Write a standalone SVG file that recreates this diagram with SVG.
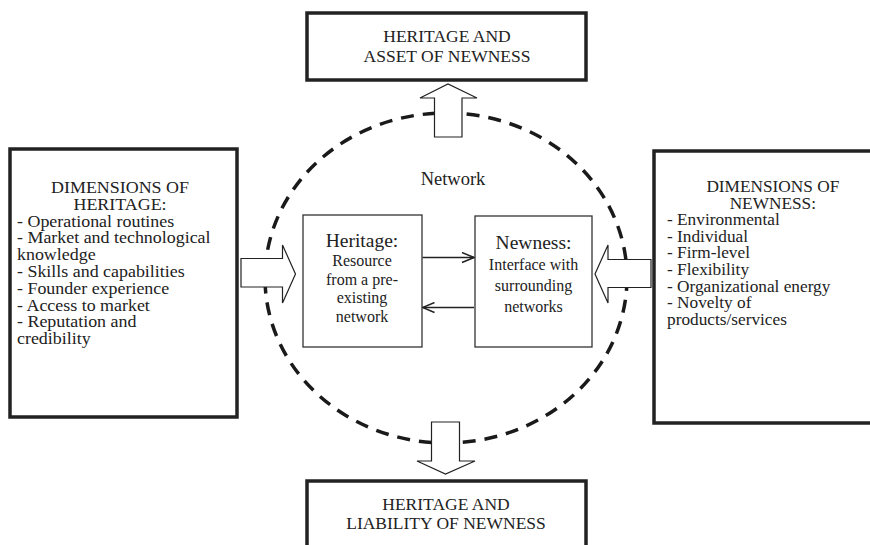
<svg xmlns="http://www.w3.org/2000/svg" width="870" height="545" viewBox="0 0 870 545">
<defs>
<style>
text{font-family:"Liberation Serif","Times New Roman",serif;fill:#222;}
.box{fill:#fff;stroke:#222;stroke-width:3.5;}
.inner{fill:#fff;stroke:#333;stroke-width:1.3;}
.block{fill:#fff;stroke:#222;stroke-width:1.2;stroke-linejoin:miter;}
.net{fill:none;stroke:#1a1a1a;stroke-width:3.5;stroke-dasharray:13 9;}
.ln{fill:none;stroke:#222;stroke-width:1.5;}
.c{text-anchor:middle;}
.l{font-size:16.6px;}
.r{font-size:16px;}
</style>
<marker id="open" viewBox="0 0 14 12" refX="13" refY="6" markerWidth="14" markerHeight="12" markerUnits="userSpaceOnUse" orient="auto">
<path d="M1,1 L13,6 L1,11" fill="none" stroke="#222" stroke-width="1.5"/>
</marker>
</defs>
<rect width="870" height="545" fill="#fff"/>

<g id="network">
<ellipse class="net" cx="446" cy="278" rx="181" ry="165"/>
<text class="c" x="453" y="185" font-size="18.5">Network</text>
</g>

<g id="connectors">
<path class="block" d="M434.5,137 L434.5,98 L420,98 L448,84 L477,98 L462,98 L462,137 Z"/>
<path class="block" d="M431.5,422 L459.5,422 L459.5,461 L475,461 L445.5,474 L417,461 L431.5,461 Z"/>
<path class="block" d="M241,258.5 L282.5,258.5 L282.5,245 L295.5,274 L282.5,303 L282.5,287 L241,287 Z"/>
<path class="block" d="M651,259.5 L608,259.5 L608,245 L595,274 L608,303 L608,287.5 L651,287.5 Z"/>
<line class="ln" x1="422.5" y1="257.5" x2="474" y2="257.5" marker-end="url(#open)"/>
<line class="ln" x1="474" y1="307.5" x2="422.5" y2="307.5" marker-end="url(#open)"/>
</g>

<g id="asset">
<rect class="box" x="307" y="13" width="279" height="67"/>
<text class="c" x="447" y="42" font-size="17.5">HERITAGE AND</text>
<text class="c" x="447" y="62" font-size="17.5">ASSET OF NEWNESS</text>
</g>

<g id="liability">
<rect class="box" x="307" y="481" width="279" height="80"/>
<text class="c" x="446" y="510" font-size="17.5">HERITAGE AND</text>
<text class="c" x="446" y="529" font-size="17.5">LIABILITY OF NEWNESS</text>
</g>

<g id="dim-heritage">
<rect class="box" x="10" y="149" width="227" height="268"/>
<g transform="translate(17,0) scale(1.08,1)">
<text class="c l" x="95.4" y="193">DIMENSIONS OF</text>
<text class="c l" x="95.4" y="209.8">HERITAGE:</text>
<text class="l" x="0" y="226.6">- Operational routines</text>
<text class="l" x="0" y="243.4">- Market and technological</text>
<text class="l" x="0" y="260.2">knowledge</text>
<text class="l" x="0" y="277">- Skills and capabilities</text>
<text class="l" x="0" y="293.8">- Founder experience</text>
<text class="l" x="0" y="310.6">- Access to market</text>
<text class="l" x="0" y="327.4">- Reputation and</text>
<text class="l" x="0" y="344.2">credibility</text>
</g>
</g>

<g id="dim-newness">
<rect class="box" x="654" y="151" width="230" height="272"/>
<g transform="translate(667,0) scale(1.08,1)">
<text class="c r" x="98" y="192">DIMENSIONS OF</text>
<text class="c r" x="98" y="208.6">NEWNESS:</text>
<text class="r" x="0" y="225.2">- Environmental</text>
<text class="r" x="0" y="241.8">- Individual</text>
<text class="r" x="0" y="258.4">- Firm-level</text>
<text class="r" x="0" y="275">- Flexibility</text>
<text class="r" x="0" y="291.6">- Organizational energy</text>
<text class="r" x="0" y="308.2">- Novelty of</text>
<text class="r" x="0" y="324.8">products/services</text>
</g>
</g>

<g id="heritage">
<rect class="inner" x="303" y="215" width="119" height="132"/>
<text class="c" x="362" y="247" font-size="19.5">Heritage:</text>
<text class="c" x="362" y="266" font-size="16">Resource</text>
<text class="c" x="362" y="284.5" font-size="16">from a pre-</text>
<text class="c" x="362" y="303" font-size="16">existing</text>
<text class="c" x="362" y="321.5" font-size="16">network</text>
</g>

<g id="newness">
<rect class="inner" x="475" y="216" width="117" height="131"/>
<text class="c" x="533.5" y="249" font-size="19.5">Newness:</text>
<text class="c" x="533.5" y="270" font-size="16">Interface with</text>
<text class="c" x="533.5" y="291" font-size="16">surrounding</text>
<text class="c" x="533.5" y="312" font-size="16">networks</text>
</g>
</svg>
